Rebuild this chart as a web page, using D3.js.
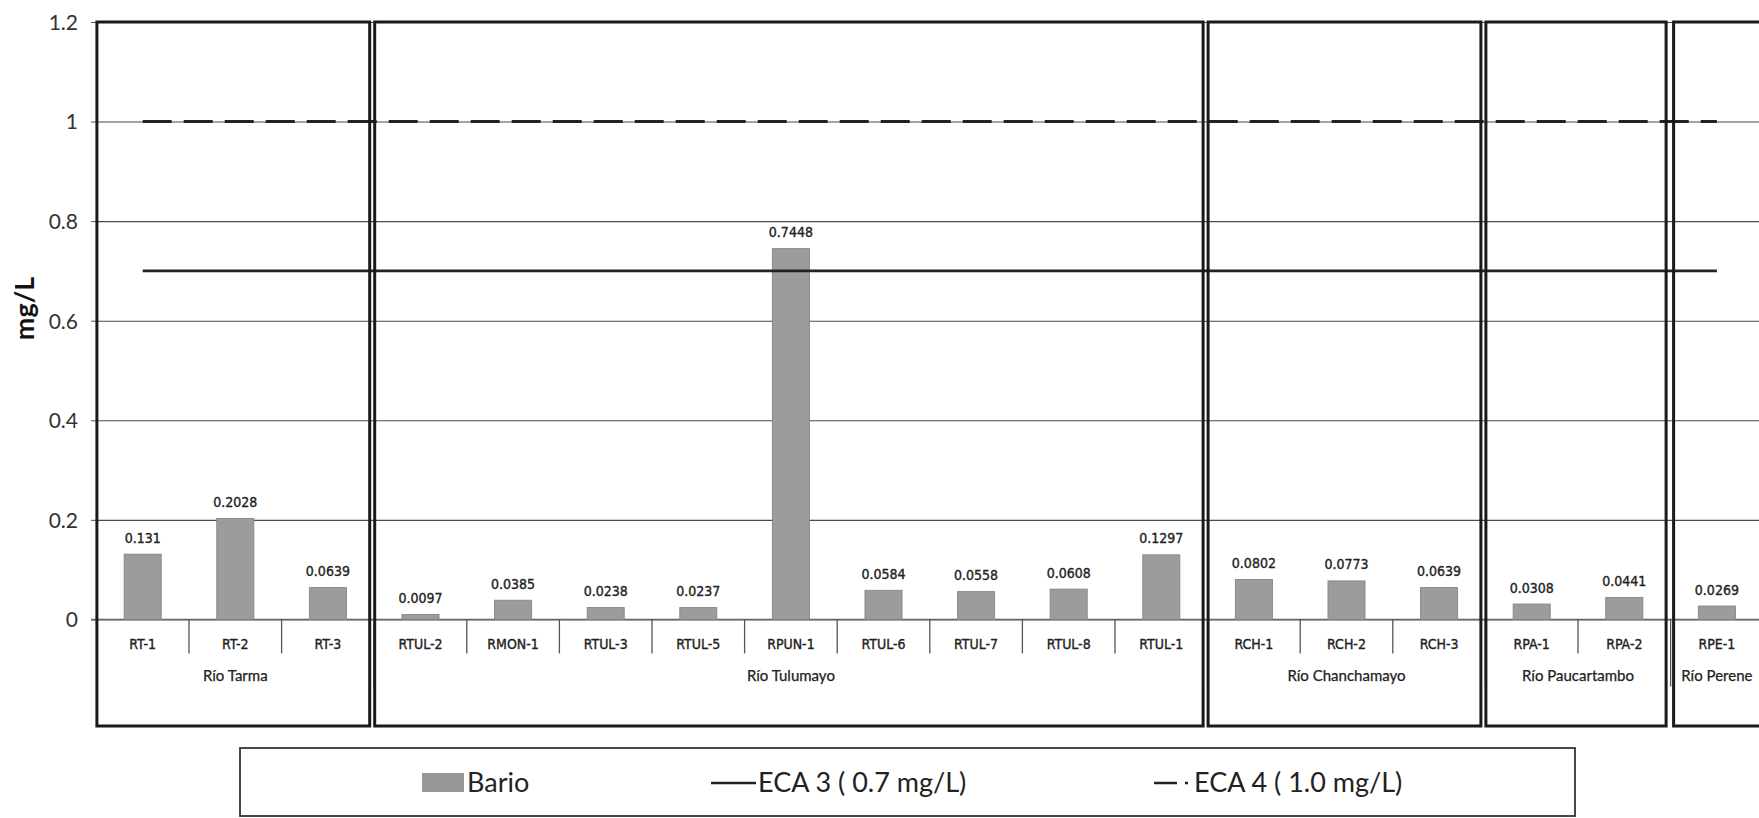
<!DOCTYPE html>
<html>
<head>
<meta charset="utf-8">
<script src="https://cdn.jsdelivr.net/npm/d3@7"></script>
<style>
  html, body { margin: 0; padding: 0; background: #fff; }
  svg { display: block; }
</style>
</head>
<body>
<svg id="chart" width="1759" height="818"></svg>
<script>
// Sampling stations (category axis)
const categories = ["RT-1", "RT-2", "RT-3", "RTUL-2", "RMON-1", "RTUL-3", "RTUL-5", "RPUN-1",
  "RTUL-6", "RTUL-7", "RTUL-8", "RTUL-1", "RCH-1", "RCH-2", "RCH-3", "RPA-1", "RPA-2", "RPE-1"];
// Barium concentration, mg/L
const bario = [0.131, 0.2028, 0.0639, 0.0097, 0.0385, 0.0238, 0.0237, 0.7448,
  0.0584, 0.0558, 0.0608, 0.1297, 0.0802, 0.0773, 0.0639, 0.0308, 0.0441, 0.0269];
// Rivers grouping the stations, and how many stations each one has
const rivers = ["Río Tarma", "Río Tulumayo", "Río Chanchamayo", "Río Paucartambo", "Río Perene"];
const riverCounts = [3, 9, 3, 2, 1];
// Y axis ticks
const yTicks = [0, 0.2, 0.4, 0.6, 0.8, 1, 1.2];
// Water quality standards
const eca3 = 0.7;
const eca4 = 1.0;
const legendLabels = ["Bario", "ECA 3 ( 0.7 mg/L)", "ECA 4 ( 1.0 mg/L)"];

const W = 1759, H = 818;
const svg = d3.select("#chart");
const ink = "#222";
const numFont = "'DejaVu Sans Condensed', 'DejaVu Sans', sans-serif";
const textFont = "Lato, 'Open Sans', sans-serif";

const x = d3.scaleBand().domain(categories).range([96.4, 1763.2])
  .paddingInner(0.6).paddingOuter(0.3);
const step = x.step();
const y = d3.scaleLinear().domain([0, 1.2]).range([619.4, 22]);
const cx = c => x(c) + x.bandwidth() / 2;
const bandStart = i => x(categories[i]) - step * 0.3;

// Horizontal gridlines
const grid = svg.append("g").attr("transform", "translate(97,0)")
  .call(d3.axisLeft(y).tickValues(yTicks).tickSize(-(W - 97)).tickFormat(""));
grid.select(".domain").remove();
grid.selectAll(".tick line").attr("stroke", "#4a4a4a").attr("stroke-width", 1.1);

// Y tick labels with short outer tick marks
const yAxis = svg.append("g").attr("transform", "translate(97,0)")
  .call(d3.axisLeft(y).tickValues(yTicks).tickSize(6).tickPadding(13)
    .tickFormat(d => d3.format("~g")(d)));
yAxis.select(".domain").attr("stroke", "#555");
yAxis.selectAll(".tick line").attr("stroke", "#555");
yAxis.selectAll(".tick text").attr("font-family", textFont).attr("font-size", 21)
  .attr("fill", "#333").attr("dy", "0.35em");

// Y axis title
svg.append("text")
  .attr("transform", `translate(34,${(y(0.6) + y(0.4)) / 2 - 62}) rotate(-90)`)
  .attr("text-anchor", "middle").attr("font-family", textFont).attr("font-weight", 700)
  .attr("font-size", 27).attr("fill", "#111").text("mg/L");

// Category baseline
svg.append("line").attr("x1", 91).attr("x2", W).attr("y1", y(0)).attr("y2", y(0))
  .attr("stroke", "#666").attr("stroke-width", 1.2);

// Category dividers: short within a river, long between rivers
const groupEnds = d3.cumsum(riverCounts);
const dividers = d3.range(1, categories.length + 1).map(i => ({
  x: bandStart(0) + i * step, long: groupEnds.includes(i)
}));
svg.append("g").selectAll("line").data(dividers).join("line")
  .attr("x1", d => d.x).attr("x2", d => d.x)
  .attr("y1", y(0)).attr("y2", d => d.long ? y(0) + 67 : y(0) + 34)
  .attr("stroke", "#555").attr("stroke-width", 1.3);

// Bars
svg.append("g").selectAll("rect").data(bario).join("rect")
  .attr("x", (d, i) => x(categories[i]))
  .attr("width", x.bandwidth())
  .attr("y", d => y(d))
  .attr("height", d => y(0) - y(d))
  .attr("fill", "#9c9c9c").attr("stroke", "#858585").attr("stroke-width", 0.9);

// Value labels
svg.append("g").selectAll("text").data(bario).join("text")
  .attr("x", (d, i) => cx(categories[i]))
  .attr("y", d => y(d) - 11.5)
  .attr("text-anchor", "middle").attr("font-family", numFont).attr("font-size", 14)
  .attr("fill", "#222").attr("stroke", "#222").attr("stroke-width", 0.35).text(d => d);

// Station labels
svg.append("g").selectAll("text").data(categories).join("text")
  .attr("x", d => cx(d)).attr("y", y(0) + 30)
  .attr("text-anchor", "middle").attr("font-family", numFont).attr("font-size", 14)
  .attr("fill", "#222").attr("stroke", "#222").attr("stroke-width", 0.35).text(d => d);

// River labels
const groupStarts = [0, ...groupEnds.slice(0, -1)];
svg.append("g").selectAll("text").data(rivers).join("text")
  .attr("x", (d, i) => bandStart(groupStarts[i]) + riverCounts[i] * step / 2)
  .attr("y", y(0) + 62)
  .attr("text-anchor", "middle").attr("font-family", textFont).attr("font-size", 15)
  .attr("fill", "#222").attr("stroke", "#222").attr("stroke-width", 0.25).text(d => d);

// Standard lines, from the first to the last station
const xFirst = cx(categories[0]), xLast = cx(categories[categories.length - 1]);
svg.append("line").attr("x1", xFirst).attr("x2", xLast).attr("y1", y(eca3)).attr("y2", y(eca3))
  .attr("stroke", ink).attr("stroke-width", 2.6);
svg.append("line").attr("x1", xFirst).attr("x2", xLast).attr("y1", y(eca4)).attr("y2", y(eca4))
  .attr("stroke", ink).attr("stroke-width", 3).attr("stroke-dasharray", "29 12");

// Frames around each river; the last one runs past the right edge
svg.append("g").selectAll("rect").data(rivers).join("rect")
  .attr("x", (d, i) => bandStart(groupStarts[i]) + (i === rivers.length - 1 ? 3 : 0.5))
  .attr("y", y(1.2))
  .attr("width", (d, i) => riverCounts[i] * step - 5 + (i === rivers.length - 1 ? 20 : 0))
  .attr("height", 726 - y(1.2))
  .attr("fill", "none").attr("stroke", "#1a1a1a").attr("stroke-width", 3);

// Legend
const lg = svg.append("g");
lg.append("rect").attr("x", 240).attr("y", 748).attr("width", 1335).attr("height", 68)
  .attr("fill", "none").attr("stroke", "#333").attr("stroke-width", 1.8);
lg.append("rect").attr("x", 422).attr("y", 773).attr("width", 42).attr("height", 19)
  .attr("fill", "#979797");
lg.append("text").attr("x", 467).attr("y", 792).attr("font-family", textFont)
  .attr("font-size", 27).attr("fill", "#222").text(legendLabels[0]);
lg.append("line").attr("x1", 711).attr("x2", 756).attr("y1", 783).attr("y2", 783)
  .attr("stroke", ink).attr("stroke-width", 2.6);
lg.append("text").attr("x", 758).attr("y", 792).attr("font-family", textFont)
  .attr("font-size", 27).attr("fill", "#222").text(legendLabels[1]);
lg.append("line").attr("x1", 1154).attr("x2", 1190).attr("y1", 783).attr("y2", 783)
  .attr("stroke", ink).attr("stroke-width", 2.6).attr("stroke-dasharray", "23 8 3 40");
lg.append("text").attr("x", 1194).attr("y", 792).attr("font-family", textFont)
  .attr("font-size", 27).attr("fill", "#222").text(legendLabels[2]);
</script>
</body>
</html>
